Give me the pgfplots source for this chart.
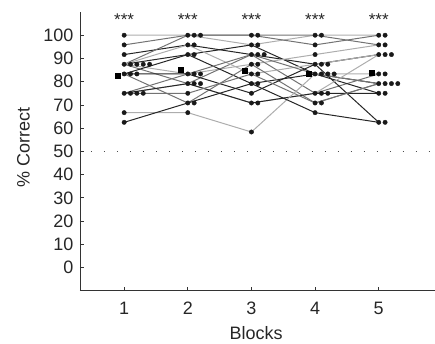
\documentclass[border=0pt]{standalone}
\usepackage{fontspec}
\setmainfont{Liberation Sans}
\usepackage{pgfplots}
\pgfplotsset{compat=1.18}
\definecolor{cA}{gray}{0.15}
\definecolor{cB}{gray}{0.45}
\definecolor{cC}{gray}{0.68}
\begin{document}
\begin{tikzpicture}
\path (-80pt,-51pt) rectangle (355pt,291pt);
\begin{axis}[at={(0,0)}, anchor=south west, scale only axis, width=355pt, height=279pt,
 xmin=0.305, xmax=5.878, ymin=-10, ymax=110,
 axis lines=left, axis line style={-, draw=black!80, line width=0.8pt},
 xtick={1,2,3,4,5}, ytick={0,10,...,100},
 tick align=inside, major tick length=4pt, tick style={black!80, line width=0.8pt},
 /pgf/number format/assume math mode=true,
 ticklabel style={font=\fontsize{18}{20}\selectfont, text=black!85},
 xticklabel style={yshift=-8pt},
 yticklabel style={xshift=-3pt},
 xlabel={Blocks}, ylabel={\% Correct},
 every axis x label/.style={at={(axis description cs:0.497,-0.176)}, anchor=base, font=\fontsize{18}{20}\selectfont, text=black!85},
 every axis y label/.style={at={(axis description cs:-0.159,0.514)}, rotate=90, anchor=center, font=\fontsize{18}{20}\selectfont, text=black!85},
 clip=false]
% chance line
\addplot[black!70, line width=1.1pt, line cap=butt, dash pattern=on 1.2pt off 11.8pt, dash phase=-11pt] coordinates {(0.305,50) (5.83,50)};
% individual subjects
\addplot[cC, line width=1pt] coordinates {(1,100) (2,100) (3,95.83) (4,100) (5,100)};
\addplot[cB, line width=1pt] coordinates {(1,95.83) (2,100) (3,100) (4,100) (5,95.83)};
\addplot[cA, line width=1pt] coordinates {(1,91.67) (2,95.83) (3,91.67) (4,87.5) (5,91.67)};
\addplot[cB, line width=1pt] coordinates {(1,87.5) (2,100) (3,100) (4,95.83) (5,100)};
\addplot[cA, line width=1pt] coordinates {(1,87.5) (2,91.67) (3,95.83) (4,83.33) (5,79.17)};
\addplot[cC, line width=1pt] coordinates {(1,87.5) (2,83.33) (3,87.5) (4,91.67) (5,95.83)};
\addplot[cB, line width=1pt] coordinates {(1,87.5) (2,79.17) (3,91.67) (4,75) (5,83.33)};
\addplot[cC, line width=1pt] coordinates {(1,87.5) (2,95.83) (3,83.33) (4,87.5) (5,91.67)};
\addplot[cA, line width=1pt] coordinates {(1,83.33) (2,91.67) (3,79.17) (4,83.33) (5,75)};
\addplot[cB, line width=1pt] coordinates {(1,83.33) (2,70.83) (3,87.5) (4,70.83) (5,79.17)};
\addplot[cA, line width=1pt] coordinates {(1,83.33) (2,83.33) (3,75) (4,87.5) (5,62.5)};
\addplot[cB, line width=1pt] coordinates {(1,75) (2,83.33) (3,91.67) (4,83.33) (5,79.17)};
\addplot[cC, line width=1pt] coordinates {(1,75) (2,79.17) (3,70.83) (4,75) (5,91.67)};
\addplot[cA, line width=1pt] coordinates {(1,75) (2,79.17) (3,70.83) (4,75) (5,75)};
\addplot[cB, line width=1pt] coordinates {(1,75) (2,75) (3,83.33) (4,70.83) (5,79.17)};
\addplot[cC, line width=1pt] coordinates {(1,66.67) (2,66.67) (3,58.33) (4,83.33) (5,83.33)};
\addplot[cA, line width=1pt] coordinates {(1,62.5) (2,70.83) (3,79.17) (4,66.67) (5,62.5)};
% dots
\addplot[only marks, mark=*, mark size=2.2pt, black!90, mark options={draw=black!90, fill=black!90}] coordinates {
(1,100) (1,95.83) (1,91.67) (1,87.5) (1.1,87.5) (1.2,87.5) (1.3,87.5) (1.4,87.5)
(1,83.33) (1.1,83.33) (1.2,83.33) (1,75) (1.1,75) (1.2,75) (1.3,75) (1,66.67) (1,62.5)
(2,100) (2.1,100) (2.2,100) (2,95.83) (2.1,95.83) (2,91.67) (2.1,91.67)
(2,83.33) (2.1,83.33) (2.2,83.33) (2,79.17) (2.1,79.17) (2.2,79.17) (2,75)
(2,70.83) (2.1,70.83) (2,66.67)
(3,100) (3.1,100) (3,95.83) (3.1,95.83) (3,91.67) (3.1,91.67) (3.2,91.67)
(3,87.5) (3.1,87.5) (3,83.33) (3.1,83.33) (3,79.17) (3.1,79.17) (3,75)
(3,70.83) (3.1,70.83) (3,58.33)
(4,100) (4.1,100) (4,95.83) (4,91.67) (4,87.5) (4.1,87.5) (4.2,87.5)
(4,83.33) (4.1,83.33) (4.2,83.33) (4.3,83.33) (4,75) (4.1,75) (4.2,75)
(4,70.83) (4.1,70.83) (4,66.67)
(5,100) (5.1,100) (5,95.83) (5.1,95.83) (5,91.67) (5.1,91.67) (5.2,91.67)
(5,83.33) (5.1,83.33) (5,79.17) (5.1,79.17) (5.2,79.17) (5.3,79.17)
(5,75) (5.1,75) (5,62.5) (5.1,62.5)};
% means
\addplot[only marks, mark=square*, mark size=2.5pt, black] coordinates {
(0.895,82.6) (1.895,85.0) (2.895,84.8) (3.895,83.3) (4.895,83.8)};
% significance
\node[font=\fontsize{17}{17}\selectfont, text=black!85, anchor=base] at (axis cs:1,104.3) {***};
\node[font=\fontsize{17}{17}\selectfont, text=black!85, anchor=base] at (axis cs:2,104.3) {***};
\node[font=\fontsize{17}{17}\selectfont, text=black!85, anchor=base] at (axis cs:3,104.3) {***};
\node[font=\fontsize{17}{17}\selectfont, text=black!85, anchor=base] at (axis cs:4,104.3) {***};
\node[font=\fontsize{17}{17}\selectfont, text=black!85, anchor=base] at (axis cs:5,104.3) {***};
\end{axis}
\end{tikzpicture}
\end{document}
